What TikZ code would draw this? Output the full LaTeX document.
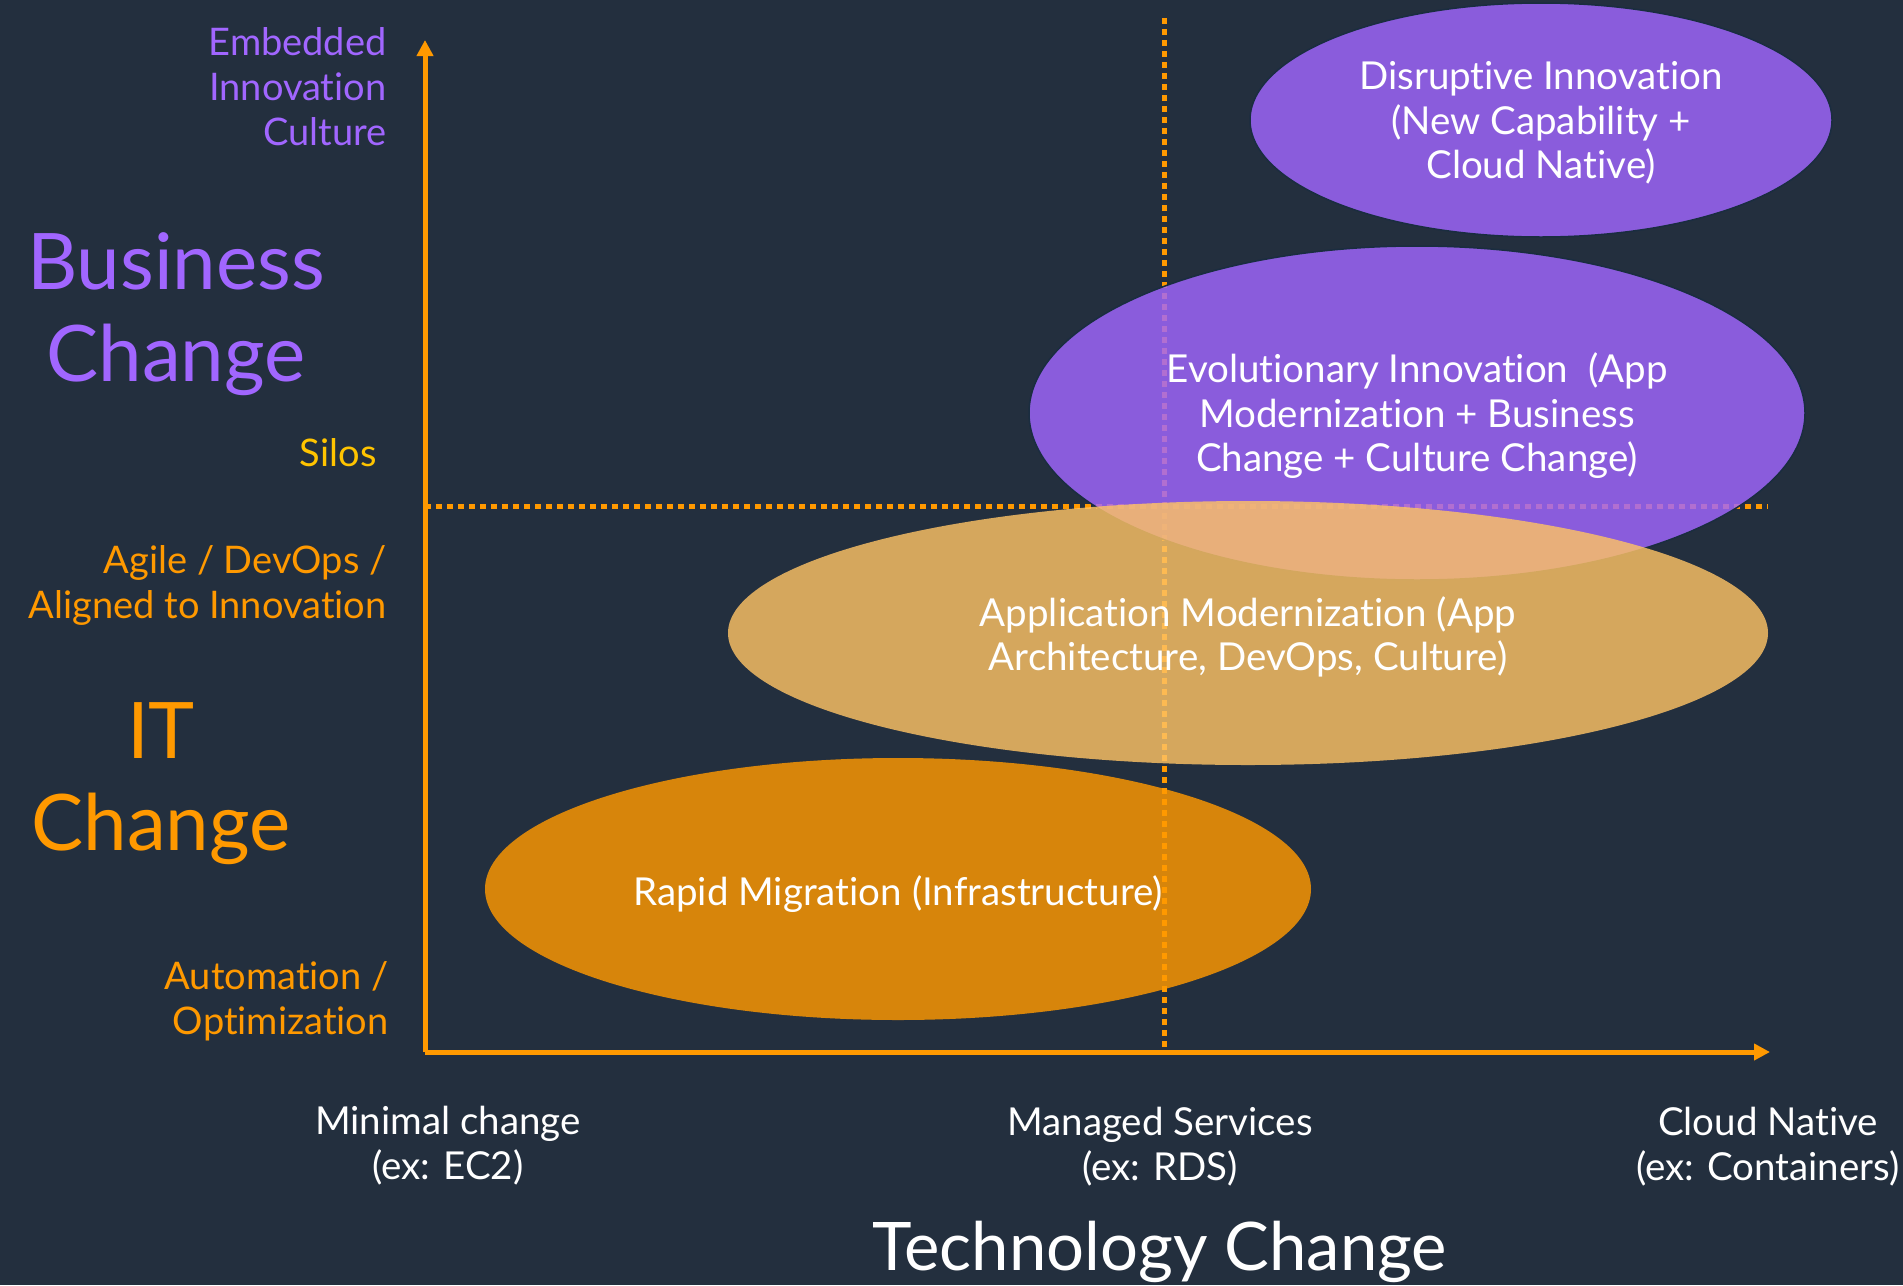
\documentclass[tikz,border=0pt]{standalone}
\usepackage{fontspec}
\setmainfont{Lato}[Ligatures=NoCommon]
\usetikzlibrary{shapes.geometric,arrows.meta}
\definecolor{bg}{HTML}{232F3E}
\definecolor{awsorange}{HTML}{FF9900}
\definecolor{awspurple}{HTML}{A166FF}
\definecolor{tanfill}{HTML}{FDC265}
\definecolor{silo}{HTML}{FFC400}
\definecolor{edgec}{HTML}{1A2D40}
\begin{document}
\begin{tikzpicture}[x=1pt,y=-1pt,
  axis/.style={awsorange,line width=5pt,-{Triangle[length=16pt,width=16pt]}},
  dotline/.style={awsorange,line width=5pt,dash pattern=on 5.5pt off 5.5pt},
  blob/.style={ellipse,inner sep=0pt,fill opacity=0.82},
  blobtext/.style={text=white,align=center,font=\fontsize{38.5}{44.5}\selectfont},
  small/.style={font=\fontsize{38}{45}\selectfont},
  big/.style={font=\fontsize{78}{92}\selectfont,align=center},
  xlab/.style={text=white,align=center,font=\fontsize{38.5}{45}\selectfont}
]
\fill[bg] (0,0) rectangle (1903,1285);
\useasboundingbox (0,0) rectangle (1903,1285);

\coordinate (O) at (425,1052);
\coordinate (Ytop) at (425,40);
\coordinate (Xend) at (1770,1052);
\coordinate (Vtop) at (1164,18);
\coordinate (Vbot) at (1164,1052);
\coordinate (Hl) at (425,506);
\coordinate (Hr) at (1768,506);

\draw[dotline] (Vtop) -- (Vbot);
\draw[dotline] (Hl) -- (Hr);
\draw[axis] (O) -- (Ytop);
\draw[axis] (O) -- (Xend);

\node[blob,fill=awspurple,draw=edgec,line width=1.5pt,draw opacity=1,minimum width=582pt,minimum height=234pt] (dis) at (1541,120) {};
\node[blob,fill=awspurple,draw=edgec,line width=1.5pt,draw opacity=1,minimum width=776pt,minimum height=334pt] (evo) at (1417,413) {};
\node[blob,fill=tanfill,minimum width=1040pt,minimum height=264pt] (app) at (1248,633) {};
\node[blob,fill=awsorange,minimum width=826pt,minimum height=262pt] (rap) at (898,889) {};

\node[blobtext] (distext) at ([yshift=-3pt]dis.center) {Disruptive Innovation\\(New Capability +\\Cloud Native)};
\node[blobtext] (evotext) at ([yshift=-3pt]evo.center) {Evolutionary Innovation\ \ (App\\Modernization + Business\\Change + Culture Change)};
\node[blobtext] (apptext) at ([yshift=-4pt]app.center) {Application Modernization (App\\Architecture, DevOps, Culture)};
\node[blobtext] (raptext) at ([yshift=-5pt]rap.center) {Rapid Migration (Infrastructure)};

\node[small,text=awspurple,align=right,anchor=east] (emb) at (390,87) {Embedded\\Innovation\\Culture};
\node[big,text=awspurple] (bus) at (176,314) {Business\\Change};
\node[small,text=silo,anchor=east] (silos) at (380,453) {Silos};
\node[small,text=awsorange,align=right,anchor=east] (agile) at (390,585) {Agile / DevOps /\\Aligned to Innovation};
\node[big,text=awsorange] (it) at (161,784) {IT\\Change};
\node[small,text=awsorange,align=right,anchor=east] (auto) at (392,1001) {Automation /\\Optimization};

\node[xlab] (minc) at (448,1146) {Minimal change\\(ex: EC2)};
\node[xlab] (mans) at (1160,1147) {Managed Services\\(ex: RDS)};
\node[xlab] (cln) at (1768,1147) {Cloud Native\\(ex: Containers)};
\node[text=white,font=\fontsize{67}{74}\selectfont,anchor=base] (tech) at (1160,1270) {Technology Change};
\end{tikzpicture}
\end{document}
